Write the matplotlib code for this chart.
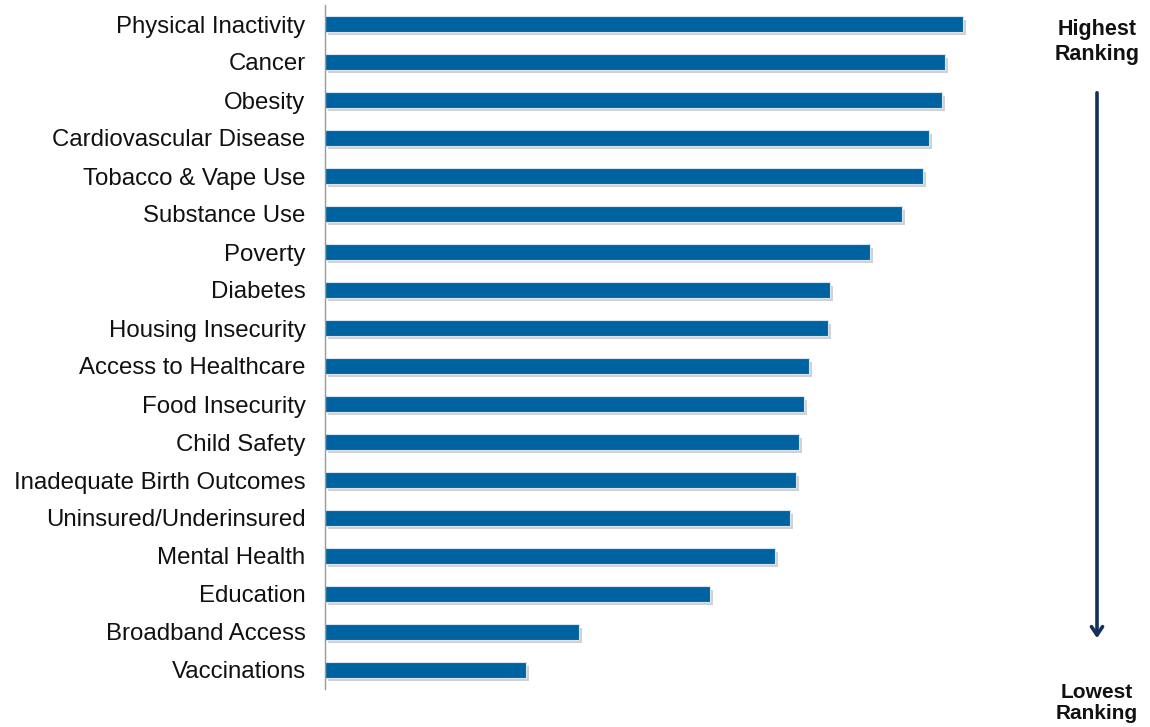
import matplotlib.pyplot as plt
import matplotlib.patheffects as pe

plt.rcParams['font.family'] = ['Liberation Sans', 'DejaVu Sans']

# Issues ranked from highest to lowest (bar length, arbitrary units)
issues = [
    "Physical Inactivity", "Cancer", "Obesity", "Cardiovascular Disease",
    "Tobacco & Vape Use", "Substance Use", "Poverty", "Diabetes",
    "Housing Insecurity", "Access to Healthcare", "Food Insecurity",
    "Child Safety", "Inadequate Birth Outcomes", "Uninsured/Underinsured",
    "Mental Health", "Education", "Broadband Access", "Vaccinations",
]
scores = [638, 620, 617, 604, 598, 577, 545, 505, 503, 484, 479, 474,
          471, 465, 450, 385, 254, 201]

W, H = 1150, 727
fig = plt.figure(figsize=(W / 100, H / 100), dpi=100)
ax = fig.add_axes([325 / W, 1 - 689 / H, 700 / W, 684 / H])

ypos = list(range(len(issues)))
bars = ax.barh(ypos, scores, height=0.4, color="#0063a1",
               edgecolor="#d6e6f2", linewidth=0.8)
for b in bars:
    b.set_path_effects([pe.SimplePatchShadow(offset=(2, -2.5), shadow_rgbFace="#999999", alpha=0.45),
                        pe.Normal()])

ax.set_xlim(0, 700)
ax.set_ylim(len(issues) - 0.5, -0.5)
ax.set_yticks(ypos)
ax.set_yticklabels(issues, fontsize=17.3, color="#111111")
ax.tick_params(axis="y", length=0, pad=14)
ax.set_xticks([])
for s in ["top", "right", "bottom"]:
    ax.spines[s].set_visible(False)
ax.spines["left"].set_color("#999999")
ax.spines["left"].set_linewidth(1.0)

# ranking direction on the right
fig.text(1097 / W, 1 - 42 / H, "Highest\nRanking", ha="center", va="center",
         fontsize=15.5, fontweight="bold", color="#111111", linespacing=1.2)
fig.text(1097 / W, 1 - 703 / H, "Lowest\nRanking", ha="center", va="center",
         fontsize=15, fontweight="bold", color="#111111", linespacing=1.1)
fig.patches.append(plt.matplotlib.patches.FancyArrowPatch(
    (1097 / W, 1 - 90 / H), (1097 / W, 1 - 641 / H), transform=fig.transFigure,
    arrowstyle="->,head_length=6,head_width=4", color="#14315c", linewidth=2.6))

fig.savefig("out.png", dpi=100)
